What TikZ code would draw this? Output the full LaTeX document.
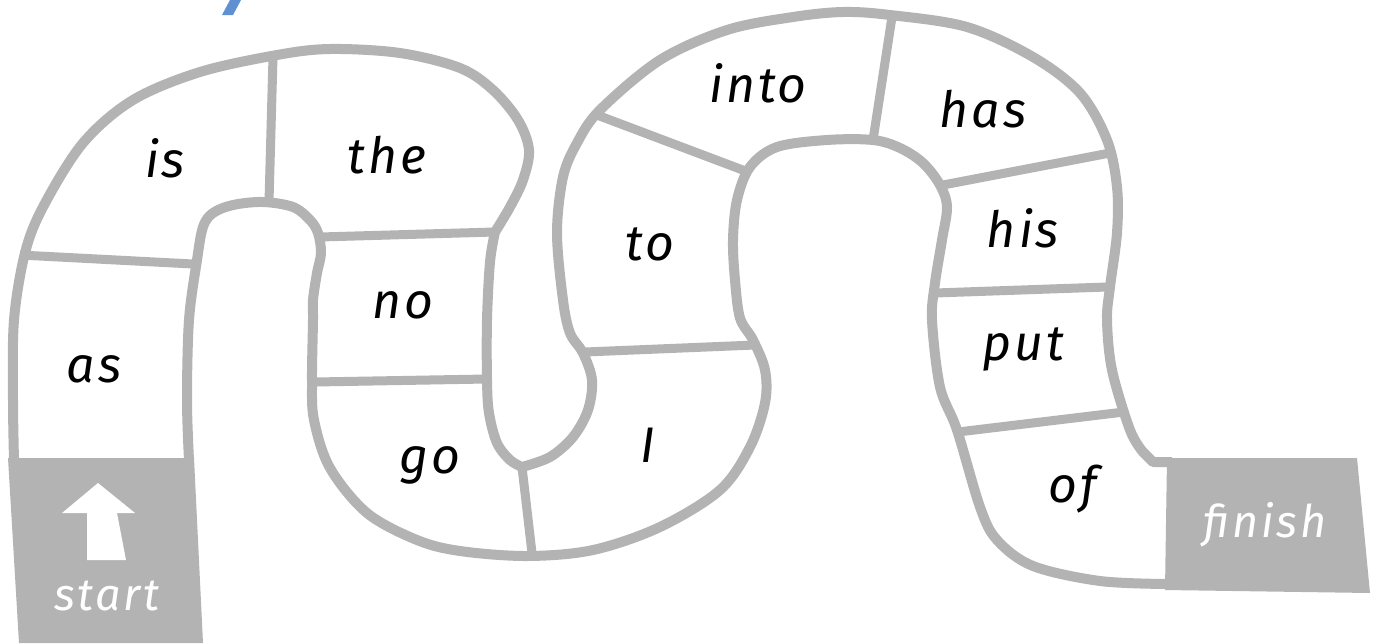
\documentclass[tikz,border=0pt]{standalone}
\usepackage{fontspec}
\setmainfont{Fira Sans}
\newfontfamily\boardfont{Fira Sans}[LetterSpace=6]
\definecolor{trackgrey}{RGB}{179,179,179}
\definecolor{titleblue}{RGB}{95,145,210}
\tikzset{
  track/.style={draw=trackgrey, line width=10pt, line join=round, line cap=butt},
  divider/.style={draw=trackgrey, line width=9pt, line cap=butt},
  endbox/.style={fill=trackgrey, draw=none},
  word/.style={font=\boardfont\fontsize{50}{60}\selectfont\itshape, anchor=base, inner sep=0pt, text=black},
  whiteword/.style={word, font=\boardfont\fontsize{45}{54}\selectfont\itshape, text=white}
}
\begin{document}
\begin{tikzpicture}[x=1pt,y=-1pt]
\fill[white] (0,0) rectangle (1379,643);
\useasboundingbox (0,0) rectangle (1379,643);
% cut-off blue glyph at top
\fill[titleblue] (222,15) -- (233,15) -- (241,0) -- (230,0) -- cycle;
% left edge of the track
\draw[track] plot[smooth, tension=0.55] coordinates {(14,460) (13,400) (14,320) (25,253) (43,207) (83,143) (133,100) (200,72) (277,55) (330,49) (400,53) (460,68) (493,90) (518,120) (529,150) (523,180) (510,207) (495,232)}
  -- plot[smooth, tension=0.55] coordinates {(495,232) (490,262) (487,320) (487,380) (489,413) (497,443) (510,460) (522,467)}
  -- plot[smooth, tension=0.55] coordinates {(522,467) (550,457) (573,437) (588,410) (592,380) (583,353) (570,333) (563,300) (557,233) (563,177) (577,143) (600,110) (660,60) (727,30) (793,17) (843,12) (890,15) (967,27) (1033,57) (1080,93) (1107,140) (1117,187) (1117,233) (1110,287) (1107,320) (1112,370) (1130,430) (1143,452)}
  -- (1153,462) -- (1172,462);
% right edge of the track
\draw[track] plot[smooth, tension=0.55] coordinates {(189,460) (187,400) (189,320) (197,260) (203,227) (213,213) (233,205) (263,202) (293,207) (310,220) (318,233) (321,253) (317,273) (313,300) (313,320) (312,380) (314,420) (330,468) (367,513) (417,540) (460,551) (527,556) (593,550) (660,527) (720,490) (750,447) (765,403) (765,370) (753,340) (740,318) (735,280) (733,240) (737,200) (750,167) (777,147) (827,140) (873,140) (900,148) (923,163) (940,185) (947,207) (942,240) (935,283) (932,320) (940,387) (957,430) (980,507) (997,540) (1033,566) (1100,581) (1168,584)};
% dividers between squares
\draw[divider] (20,255) -- (193,264);
\draw[divider] (273,57) -- (269,202);
\draw[divider] (320,237) -- (495,232);
\draw[divider] (315,382) -- (487,379);
\draw[divider] (522,467) -- (532,553);
\draw[divider] (585,352) -- (755,345);
\draw[divider] (597,115) -- (748,172);
\draw[divider] (892,17) -- (873,140);
\draw[divider] (943,185) -- (1110,153);
\draw[divider] (935,293) -- (1107,287);
\draw[divider] (958,432) -- (1124,412);
% start and finish boxes
\fill[endbox] (8,458) -- (194,458) -- (203,643) -- (19,643) -- cycle;
\fill[endbox] (1167,458) -- (1357,458) -- (1370,593) -- (1165,590) -- cycle;
% arrow
\fill[white] (62,513) -- (98,483) -- (135,513) -- (117,513) -- (126,560) -- (87,560) -- (87,513) -- cycle;
% words
\node[word] (wis) at (165,177) {is};
\node[word] (wthe) at (387,173) {the};
\node[word] (was) at (94,382) {as};
\node[word] (wno) at (403,318) {no};
\node[word] (wgo) at (430,473) {go};
\node[word] (wI) at (648,462) {I};
\node[word] (wto) at (650,260) {to};
\node[word] (winto) at (758,102) {into};
\node[word] (whas) at (983,127) {has};
\node[word] (whis) at (1023,247) {his};
\node[word] (wput) at (1023,360) {put};
\node[word] (wof) at (1073,502) {of};
\node[whiteword] (wfinish) at (1265,537) {finish};
\node[whiteword] (wstart) at (107,610) {start};
\end{tikzpicture}
\end{document}
